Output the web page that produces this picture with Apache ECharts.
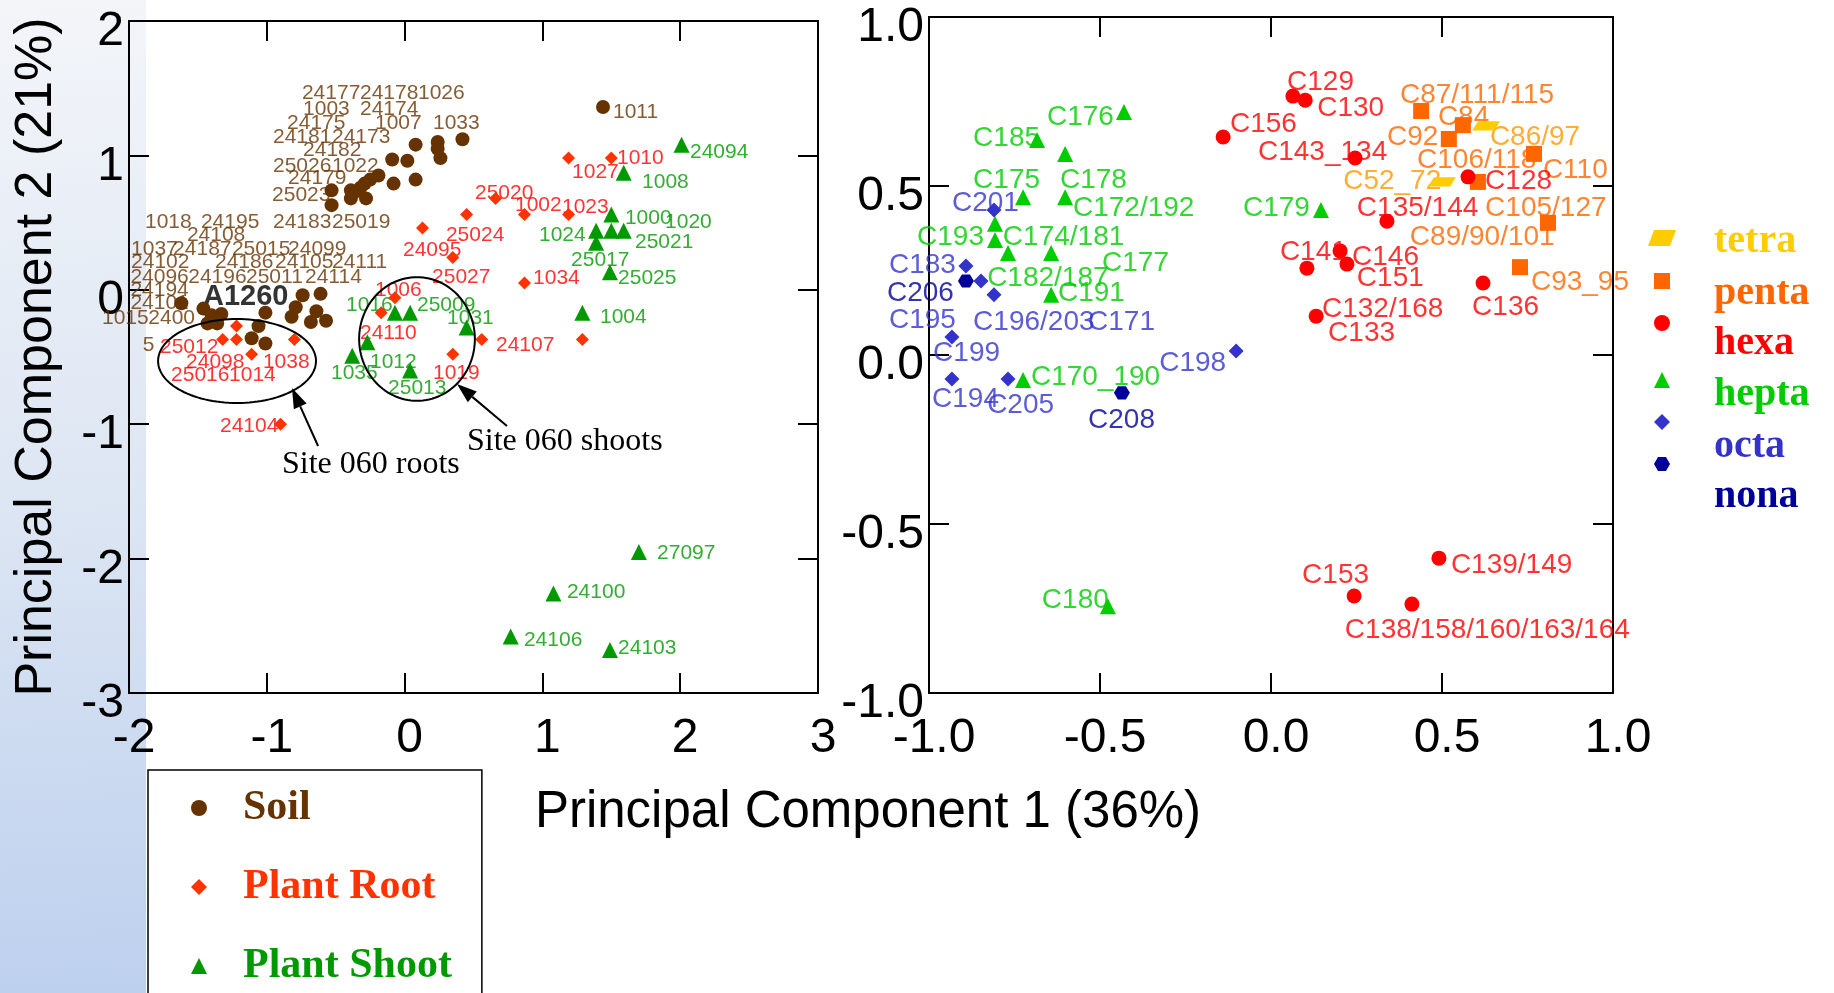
<!DOCTYPE html>
<html><head><meta charset="utf-8">
<script src="https://cdn.jsdelivr.net/npm/echarts@6/dist/echarts.min.js"></script>
<style>html,body{margin:0;padding:0;background:#fff}#c{width:1834px;height:993px}</style>
</head><body><div id="c"></div>
<script>
// ---------- LEFT PLOT DATA (PC1, PC2) ----------
const soilPoints = [[1.44,1.36],[0.42,1.12],[0.24,1.10],[0.24,1.05],[0.26,0.98],[0.08,1.08],[-0.09,0.97],[0.02,0.96],[-0.19,0.85],[-0.25,0.82],[-0.29,0.79],[-0.32,0.76],[-0.36,0.73],[-0.08,0.79],[0.08,0.82],[-0.53,0.74],[-0.53,0.63],[-0.39,0.68],[-0.28,0.68],[-0.39,0.74],
  [-1.62,-0.10],[-1.46,-0.14],[-1.40,-0.19],[-1.33,-0.18],[-1.43,-0.25],[-1.36,-0.25],[-1.01,-0.17],[-1.06,-0.27],[-1.11,-0.36],[-1.01,-0.40],[-0.74,-0.04],[-0.61,-0.03],[-0.79,-0.13],[-0.82,-0.20],[-0.64,-0.16],[-0.68,-0.24],[-0.57,-0.23]];
const rootPoints = [[1.19,0.98],[1.50,0.98],[0.66,0.68],[0.45,0.56],[0.87,0.56],[1.19,0.56],[0.13,0.46],[0.35,0.24],[0.87,0.05],[-0.07,-0.06],[-0.17,-0.17],[0.56,-0.37],[0.35,-0.48],[1.29,-0.37],[-1.22,-0.27],[-1.32,-0.37],[-1.22,-0.37],[-1.11,-0.48],[-0.80,-0.37],[-0.90,-1.00]];
const shootPoints = [[2.01,1.08],[1.59,0.87],[1.50,0.56],[1.39,0.44],[1.50,0.44],[1.59,0.44],[1.39,0.35],[1.49,0.13],[1.29,-0.17],[-0.07,-0.17],[0.04,-0.17],[0.45,-0.28],[-0.27,-0.39],[-0.38,-0.49],[0.04,-0.60],[1.70,-1.95],[1.08,-2.26],[0.77,-2.58],[1.49,-2.68]];
// sample-name text anchors [PC1, PC2, text]
const soilLabels = [[-0.745,1.464,'24177'],[-0.324,1.464,'24178'],[0.097,1.464,'1026'],[-0.737,1.345,'1003'],[-0.324,1.345,'24174'],
  [-0.853,1.241,'24175'],[-0.215,1.241,'1007'],[0.206,1.241,'1033'],[-0.955,1.137,'24181'],[-0.527,1.137,'24173'],[-0.737,1.04,'24182'],
  [-0.955,0.921,'25026'],[-0.527,0.921,'1022'],[-0.846,0.832,'24179'],[-0.962,0.705,'25023'],
  [-1.884,0.504,'1018'],[-1.478,0.504,'24195'],[-0.955,0.504,'24183'],[-0.527,0.504,'25019'],[-1.58,0.408,'24108'],
  [-1.985,0.304,'1037'],[-1.68,0.304,'24187'],[-1.253,0.304,'25015'],[-0.846,0.304,'24099'],
  [-1.985,0.207,'24102'],[-1.376,0.207,'24186'],[-0.94,0.207,'24105'],[-0.527,0.207,'24111'],
  [-1.99,0.095,'24096'],[-1.57,0.095,'24196'],[-1.151,0.095,'25011'],[-0.723,0.095,'24114'],
  [-1.99,-0.001,'24194'],[-1.99,-0.098,'24101'],[-2.196,-0.21,'1015'],[-1.86,-0.21,'2400'],[-1.90,-0.411,'5'],[1.512,1.323,'1011']];
const rootLabels = [[1.215,0.876,'1027'],[1.541,0.981,'1010'],[0.511,0.72,'25020'],[0.801,0.631,'1002'],[1.142,0.616,'1023'],[0.30,0.408,'25024'],
  [-0.012,0.296,'24095'],[0.199,0.095,'25027'],[0.932,0.088,'1034'],[-0.215,-0.001,'1006'],[-0.324,-0.321,'24110'],[0.663,-0.411,'24107'],
  [0.206,-0.619,'1019'],[-1.775,-0.426,'25012'],[-1.586,-0.537,'24098'],[-1.028,-0.537,'1038'],[-1.695,-0.634,'25016'],[-1.274,-0.634,'1014'],[-1.34,-1.013,'24104']];
const shootLabels = [[2.071,1.025,'24094'],[1.723,0.802,'1008'],[1.599,0.534,'1000'],[1.89,0.504,'1020'],[0.975,0.408,'1024'],[1.672,0.356,'25021'],
  [1.208,0.222,'25017'],[1.549,0.088,'25025'],[1.418,-0.202,'1004'],[-0.425,-0.113,'1016'],[0.09,-0.113,'25009'],[0.308,-0.21,'1031'],
  [-0.251,-0.537,'1012'],[-0.534,-0.619,'1035'],[-0.12,-0.731,'25013'],[1.832,-1.958,'27097'],[1.178,-2.249,'24100'],[0.866,-2.606,'24106'],[1.549,-2.665,'24103']];
const refLabel = [[-1.463,-0.054,'A1260']];

// ---------- RIGHT PLOT DATA (loadings by homolog) ----------
const tetraPoints = [[0.629,0.678],[0.50,0.512]];
const pentaPoints = [[0.439,0.722],[0.561,0.68],[0.52,0.639],[0.769,0.595],[0.605,0.512],[0.81,0.391],[0.728,0.26]];
const hexaPoints = [[0.064,0.766],[0.10,0.754],[-0.14,0.645],[0.246,0.583],[0.576,0.527],[0.339,0.396],[0.202,0.308],[0.222,0.269],[0.105,0.257],[0.62,0.213],[0.132,0.115],[0.243,-0.713],[0.491,-0.601],[0.412,-0.737]];
const heptaPoints = [[-0.43,0.719],[-0.684,0.636],[-0.602,0.595],[-0.725,0.467],[-0.602,0.467],[-0.807,0.388],[-0.807,0.34],[-0.769,0.302],[-0.643,0.302],[-0.643,0.178],[-0.725,-0.074],[0.146,0.429],[-0.477,-0.743]];
const octaPoints = [[-0.81,0.429],[-0.892,0.263],[-0.848,0.219],[-0.81,0.178],[-0.933,0.053],[-0.933,-0.071],[-0.769,-0.071],[-0.102,0.012]];
const nonaPoints = [[-0.892,0.219],[-0.436,-0.112]];
const tetraLabels = [[0.211,0.515,'C52_72'],[0.64,0.645,'C86/97']];
const pentaLabels = [[0.377,0.769,'C87/111/115'],[0.488,0.704,'C84'],[0.339,0.645,'C92'],[0.427,0.577,'C106/118'],[0.795,0.547,'C110'],[0.626,0.435,'C105/127'],[0.406,0.349,'C89/90/101'],[0.76,0.216,'C93_95']];
const hexaLabels = [[0.047,0.808,'C129'],[0.135,0.731,'C130'],[-0.12,0.683,'C156'],[-0.038,0.601,'C143_134'],[0.251,0.435,'C135/144'],[0.626,0.515,'C128'],
  [0.026,0.305,'C141'],[0.237,0.29,'C146'],[0.251,0.228,'C151'],[0.588,0.142,'C136'],[0.149,0.136,'C132/168'],[0.167,0.065,'C133'],
  [0.091,-0.651,'C153'],[0.526,-0.621,'C139/149'],[0.216,-0.814,'C138/158/160/163/164']];
const heptaLabels = [[-0.655,0.704,'C176'],[-0.871,0.642,'C185'],[-0.871,0.518,'C175'],[-0.617,0.518,'C178'],[-0.579,0.435,'C172/192'],[-1.035,0.349,'C193'],
  [-0.784,0.349,'C174/181'],[-0.494,0.272,'C177'],[-0.83,0.228,'C182/187'],[-0.623,0.183,'C191'],[-0.702,-0.065,'C170_190'],[-0.082,0.435,'C179'],[-0.67,-0.725,'C180']];
const octaLabels = [[-0.933,0.45,'C201'],[-1.117,0.266,'C183'],[-1.117,0.104,'C195'],[-0.871,0.098,'C196/203'],[-0.535,0.098,'C171'],[-0.988,0.006,'C199'],[-0.991,-0.13,'C194'],[-0.83,-0.148,'C205'],[-0.327,-0.024,'C198']];
const nonaLabels = [[-1.123,0.183,'C206'],[-0.535,-0.192,'C208']];

// annotations in data units of the left plot
const ellipses = [{cx:-1.216, cy:-0.53, rx:0.573, ry:0.3125}, {cx:0.09, cy:-0.366, rx:0.42, ry:0.46}];
const arrows = [{from:[-0.628,-1.162], to:[-0.817,-0.731]}, {from:[0.743,-1.013], to:[0.38,-0.701]}];
const notes = [{x:-0.89, y:-1.304, text:'Site 060 roots'}, {x:0.453, y:-1.132, text:'Site 060 shoots'}];

const SANS = "'Liberation Sans', Arial, sans-serif";
const SERIF = "'Liberation Serif', 'Times New Roman', serif";

function axis(gi, pos, min, max, interval, showLabel, fmt) {
  const isX = pos === 'bottom' || pos === 'top';
  const lab = {show:showLabel, color:'#000', margin: isX ? 22 : 5};
  if (isX) { Object.assign(lab, {fontSize:48, fontFamily:SANS, formatter:fmt, padding:[0,0,0,10]}); }
  else {
    lab.formatter = v => '{a|' + (fmt ? fmt(v) : v) + '}';
    lab.rich = {a:{fontSize:48, fontFamily:SANS, color:'#000', padding:[22,0,0,0]}};
  }
  return {type:'value', gridIndex:gi, position:pos, min, max, interval,
    axisLine:{show:true, onZero:false, lineStyle:{color:'#000', width:2}},
    axisTick:{show:true, inside:true, length:20, lineStyle:{color:'#000', width:2}},
    axisLabel:lab, splitLine:{show:false}, minorTick:{show:false}, axisPointer:{show:false}};
}
function pts(name, data, gi, symbol, size, color) {
  return {name, type:'scatter', xAxisIndex:gi*2, yAxisIndex:gi*2, data, symbol, symbolSize:size, symbolKeepAspect:true,
    itemStyle:{color, opacity:1}, clip:false, z:3, silent:true, animation:false, emphasis:{disabled:true}};
}
function txt(name, data, gi, color, size, weight) {
  return {name, type:'scatter', xAxisIndex:gi*2, yAxisIndex:gi*2, data, symbol:'circle', symbolSize:0,
    itemStyle:{color:'rgba(0,0,0,0)'}, clip:false, z:1, silent:true, animation:false, emphasis:{disabled:true},
    label:{show:true, position:'right', distance:0, formatter:p => p.data[2], color, fontSize:size, fontFamily:SANS, fontWeight:weight || 'normal'}};
}
const fmt1 = v => v.toFixed(1);
const fmt0 = v => String(Math.round(v));
const PARA = 'path://M6,0L28,0L22,16L0,16Z';
const HEX = 'path://M4,0L12,0L16,7L12,14L4,14L0,7Z';

// right legend: [name, colour, icon centre y, text drop below icon, icon width]
const rightLegend = [
  ['tetra', '#ffcc00', 238, 4, 28], ['penta', '#ff6600', 281, 13, 16], ['hexa', '#ff0000', 323, 21, 16],
  ['hepta', '#00cc00', 380, 15, 16], ['octa', '#3333cc', 422, 25, 16], ['nona', '#000099', 465, 33, 16]
].map(([n, c, sy, d, w]) => {
  const left = 1662 - w / 2;
  const padL = 1714 - (left + w + 5);
  return {orient:'vertical', left, top: sy - 8 + Math.min(0, d - 12), itemWidth:w, itemHeight:16, padding:0, selectedMode:false, symbolKeepAspect:true,
    data:[n], formatter:'{a|{name}}',
    textStyle:{rich:{a:{color:c, fontFamily:SERIF, fontWeight:'bold', fontSize:40, padding:[2 * d, 0, 0, padL]}}}};
});
const leftKeys = {'Soil':'s', 'Plant Root':'r', 'Plant Shoot':'h'};
const serifBold = {fontFamily:SERIF, fontWeight:'bold', fontSize:42, padding:[0,0,0,31]};

const option = {
  backgroundColor:'#fff',
  animation:false,
  grid:[{left:129, top:21, width:689, height:672, containLabel:false, outerBoundsMode:'none'},
        {left:929, top:17, width:684, height:676, containLabel:false, outerBoundsMode:'none'}],
  xAxis:[axis(0,'bottom',-2,3,1,true,fmt0), axis(0,'top',-2,3,1,false),
         axis(1,'bottom',-1,1,0.5,true,fmt1), axis(1,'top',-1,1,0.5,false)],
  yAxis:[axis(0,'left',-3,2,1,true,fmt0), axis(0,'right',-3,2,1,false),
         axis(1,'left',-1,1,0.5,true,fmt1), axis(1,'right',-1,1,0.5,false)],
  legend:[{
    orient:'vertical', left:148, top:770, height:420, itemWidth:16, itemHeight:16, itemGap:37, padding:[17,30,30,43],
    backgroundColor:'#fff', borderColor:'#000', borderWidth:1.5, borderRadius:0, selectedMode:false, symbolKeepAspect:true,
    data:['Soil', 'Plant Root', 'Plant Shoot'],
    formatter: n => '{' + leftKeys[n] + '|' + n + '}',
    textStyle:{rich:{s:Object.assign({color:'#663300'}, serifBold), r:Object.assign({color:'#ff3300'}, serifBold), h:Object.assign({color:'#009900'}, serifBold)}}
  }].concat(rightLegend),
  series:[
    txt('soilText', soilLabels, 0, '#663300', 21), txt('rootText', rootLabels, 0, '#ff0000', 21), txt('shootText', shootLabels, 0, '#009900', 21),
    txt('refText', refLabel, 0, '#000000', 29, 'bold'),
    pts('Soil', soilPoints, 0, 'circle', 14, '#663300'),
    pts('Plant Root', rootPoints, 0, 'diamond', 13, '#ff3300'),
    pts('Plant Shoot', shootPoints, 0, 'triangle', 16, '#009900'),
    txt('tetraText', tetraLabels, 1, '#ff9900', 28), txt('pentaText', pentaLabels, 1, '#ff6600', 28), txt('hexaText', hexaLabels, 1, '#ff0000', 28),
    txt('heptaText', heptaLabels, 1, '#00cc00', 28), txt('octaText', octaLabels, 1, '#3333cc', 28), txt('nonaText', nonaLabels, 1, '#000099', 28),
    pts('tetra', tetraPoints, 1, PARA, [28,16], '#ffcc00'),
    pts('penta', pentaPoints, 1, 'rect', 16, '#ff6600'),
    pts('hexa', hexaPoints, 1, 'circle', 15, '#ff0000'),
    pts('hepta', heptaPoints, 1, 'triangle', 16, '#00cc00'),
    pts('octa', octaPoints, 1, 'diamond', 15, '#3333cc'),
    pts('nona', nonaPoints, 1, HEX, [16,15], '#000099')
  ]
};

const chart = echarts.init(document.getElementById('c'), null, {renderer:'canvas'});
chart.setOption(option);

const P = (x, y) => chart.convertToPixel({xAxisIndex:0, yAxisIndex:0}, [x, y]);
const g = [];
g.push({type:'rect', z:-10, shape:{x:0, y:0, width:146, height:993},
  style:{fill:{type:'linear', x:0, y:0, x2:0.3, y2:1, colorStops:[{offset:0, color:'#f3f5f9'}, {offset:0.5, color:'#dde6f3'}, {offset:1, color:'#bdd0ee'}]}}});
g.push({type:'text', x:868, y:813, z:10, style:{text:'Principal Component 1 (36%)', font:"51px 'Liberation Sans'", fill:'#000', textAlign:'center', textVerticalAlign:'middle', verticalAlign:'middle'}});
g.push({type:'text', x:37, y:357, rotation:Math.PI/2, z:10, style:{text:'Principal Component 2 (21%)', font:"52px 'Liberation Sans'", fill:'#000', textAlign:'center', textVerticalAlign:'middle', verticalAlign:'middle'}});
ellipses.forEach(e => {
  const c = P(e.cx, e.cy), a = P(e.cx + e.rx, e.cy), b = P(e.cx, e.cy + e.ry);
  const RX = Math.abs(a[0] - c[0]), RY = Math.abs(b[1] - c[1]);
  const ptsArr = [];
  for (let i = 0; i < 120; i++) { const t = i / 120 * 2 * Math.PI; ptsArr.push([c[0] + RX * Math.cos(t), c[1] + RY * Math.sin(t)]); }
  g.push({type:'polygon', z:5, shape:{points:ptsArr}, style:{fill:'none', stroke:'#000', lineWidth:2}});
});
arrows.forEach(ar => {
  const A = P(ar.from[0], ar.from[1]), B = P(ar.to[0], ar.to[1]);
  const dx = B[0] - A[0], dy = B[1] - A[1], L = Math.hypot(dx, dy), ux = dx / L, uy = dy / L;
  const hl = 20, hw = 7;
  const base = [B[0] - ux * hl, B[1] - uy * hl];
  g.push({type:'line', z:5, shape:{x1:A[0], y1:A[1], x2:base[0], y2:base[1]}, style:{stroke:'#000', lineWidth:2}});
  g.push({type:'polygon', z:5, shape:{points:[B, [base[0] - uy * hw, base[1] + ux * hw], [base[0] + uy * hw, base[1] - ux * hw]]}, style:{fill:'#000'}});
});
notes.forEach(n => {
  const p = P(n.x, n.y);
  g.push({type:'text', x:p[0], y:p[1], z:5, style:{text:n.text, font:"32px 'Liberation Serif'", fill:'#000', textAlign:'left', textVerticalAlign:'middle', verticalAlign:'middle'}});
});
chart.setOption({graphic:{elements:g}});
</script></body></html>
